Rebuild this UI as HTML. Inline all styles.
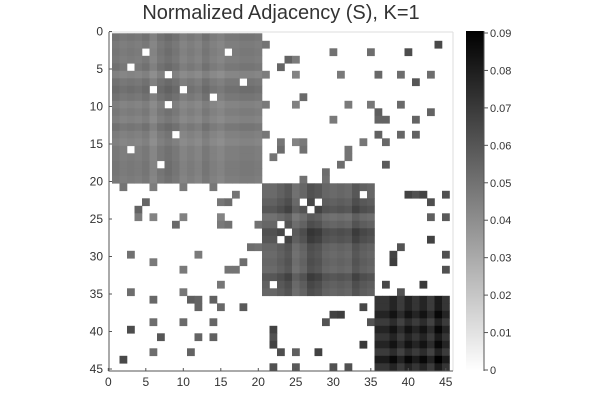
<!DOCTYPE html>
<html><head><meta charset="utf-8">
<style>
body{margin:0;background:#fff;}
svg text{font-family:"Liberation Sans",sans-serif;}
</style></head>
<body>
<svg id="chart" width="600" height="400" viewBox="0 0 600 400" xmlns="http://www.w3.org/2000/svg">
<defs>
<linearGradient id="cbgrad" x1="0" y1="1" x2="0" y2="0">
<stop offset="0" stop-color="#ffffff"/><stop offset="1" stop-color="#000000"/>
</linearGradient>
</defs>
<rect width="600" height="400" fill="#fff"/>
<text x="281" y="19" text-anchor="middle" font-size="20" fill="#333">Normalized Adjacency (S), K=1</text>
<g id="cells"></g>
<line x1="109" y1="32" x2="453" y2="32" stroke="#ddd"/>
<line x1="453" y1="32" x2="453" y2="371" stroke="#ddd"/>
<line x1="109" y1="32" x2="109" y2="371.5" stroke="#555"/>
<line x1="108.5" y1="371" x2="453" y2="371" stroke="#555"/>
<g id="xticks"></g>
<g id="yticks"></g>
<rect x="466" y="31" width="18" height="340" fill="url(#cbgrad)"/>
<line x1="484" y1="31" x2="484" y2="371" stroke="#555"/>
<g id="cbticks"></g>
</svg>
<script>
// ---- data ----
const N = 45;
const blockStarts = [1, 21, 36];          // community starting node (1-indexed)
const blockEnds = [20, 35, 45];
// missing edges inside communities (upper triangle pairs, row,col)
const holeRows = [3, 3, 6, 7, 8, 9, 22, 23, 23, 24];
const holeCols = [5, 16, 8, 18, 10, 14, 34, 26, 28, 27];
// edges between communities (upper triangle pairs)
const edgeRows = [2,2,3,3,3,4,4,5,6,6,6,6,6,6,7,9,10,10,10,10,10,11,11,12,12,12,12,14,14,14,14,15,15,15,15,15,16,16,16,17,17,18,18,19,20,20,
  22,22,22,22,23,25,25,28,29,30,30,31,32,34,34,35];
const edgeCols = [21,44,30,35,40,24,25,23,21,25,31,36,39,43,41,26,21,25,32,35,39,36,43,30,36,37,41,21,36,39,41,23,25,26,34,37,23,26,32,22,32,31,37,29,26,29,
  40,41,42,45,43,43,45,43,39,38,45,38,45,37,42,39];
const cbTicks = [0, 0.01, 0.02, 0.03, 0.04, 0.05, 0.06, 0.07, 0.08, 0.09];
const cbLabels = ["0","0.01","0.02","0.03","0.04","0.05","0.06","0.07","0.08","0.09"];
const axisTicks = [0, 5, 10, 15, 20, 25, 30, 35, 40, 45];
const vmax = 0.09;

// ---- scales ----
const cellW = 7.5, cellH = 7.5, x0 = 112, y0 = 33.3;
function xCell(c){ return x0 + (c - 1) * cellW; }
function yCell(r){ return y0 + (r - 1) * cellH; }
function xTick(v){ return 108.3 + v * 7.5; }
function yTick(v){ return 31.5 + v * 7.5; }
function cbY(v){ return 370 - v / vmax * 337; }
function gray(v){ const g = Math.round(255 * (1 - Math.min(v, vmax) / vmax)); return `rgb(${g},${g},${g})`; }

// ---- build adjacency ----
const A = [];
for (let i = 0; i <= N; i++) A.push(new Array(N + 1).fill(0));
for (let b = 0; b < blockStarts.length; b++)
  for (let i = blockStarts[b]; i <= blockEnds[b]; i++)
    for (let j = blockStarts[b]; j <= blockEnds[b]; j++) A[i][j] = 1;
for (let k = 0; k < holeRows.length; k++){ A[holeRows[k]][holeCols[k]] = 0; A[holeCols[k]][holeRows[k]] = 0; }
for (let k = 0; k < edgeRows.length; k++){ A[edgeRows[k]][edgeCols[k]] = 1; A[edgeCols[k]][edgeRows[k]] = 1; }
const deg = new Array(N + 1).fill(0);
for (let i = 1; i <= N; i++) for (let j = 1; j <= N; j++) deg[i] += A[i][j];

const NS = "http://www.w3.org/2000/svg";
const cells = document.getElementById('cells');
for (let i = 1; i <= N; i++){
  for (let j = 1; j <= N; j++){
    if (!A[i][j]) continue;
    const v = 1 / Math.sqrt(deg[i] * deg[j]);
    const r = document.createElementNS(NS, 'rect');
    r.setAttribute('x', xCell(j)); r.setAttribute('y', yCell(i));
    r.setAttribute('width', cellW + 0.3); r.setAttribute('height', cellH + 0.3);
    r.setAttribute('fill', gray(v));
    
    
    cells.appendChild(r);
  }
}
const xt = document.getElementById('xticks'), yt = document.getElementById('yticks');
axisTicks.forEach(v => {
  const l = document.createElementNS(NS, 'line');
  l.setAttribute('x1', xTick(v)); l.setAttribute('x2', xTick(v));
  l.setAttribute('y1', 371); l.setAttribute('y2', 368);
  l.setAttribute('stroke', '#555');
  
  
  xt.appendChild(l);
  const t = document.createElementNS(NS, 'text');
  t.setAttribute('x', xTick(v)); t.setAttribute('y', 386);
  t.setAttribute('text-anchor', 'middle'); t.setAttribute('font-size', '12'); t.setAttribute('fill', '#333');
  t.textContent = v;
  
  
  xt.appendChild(t);
  const l2 = document.createElementNS(NS, 'line');
  l2.setAttribute('x1', 109); l2.setAttribute('x2', 112);
  l2.setAttribute('y1', yTick(v)); l2.setAttribute('y2', yTick(v));
  l2.setAttribute('stroke', '#555');
  
  
  yt.appendChild(l2);
  const t2 = document.createElementNS(NS, 'text');
  t2.setAttribute('x', 103); t2.setAttribute('y', yTick(v) + 4);
  t2.setAttribute('text-anchor', 'end'); t2.setAttribute('font-size', '12'); t2.setAttribute('fill', '#333');
  t2.textContent = v;
  
  
  yt.appendChild(t2);
});
const cbt = document.getElementById('cbticks');
cbTicks.forEach((v, k) => {
  const l = document.createElementNS(NS, 'line');
  l.setAttribute('x1', 484); l.setAttribute('x2', 488);
  l.setAttribute('y1', cbY(v)); l.setAttribute('y2', cbY(v));
  l.setAttribute('stroke', '#555');
  
  
  cbt.appendChild(l);
  const t = document.createElementNS(NS, 'text');
  t.setAttribute('x', 490); t.setAttribute('y', cbY(v) + 4);
  t.setAttribute('font-size', '11'); t.setAttribute('fill', '#333');
  t.textContent = cbLabels[k];
  
  
  cbt.appendChild(t);
});
</script>
</body></html>
